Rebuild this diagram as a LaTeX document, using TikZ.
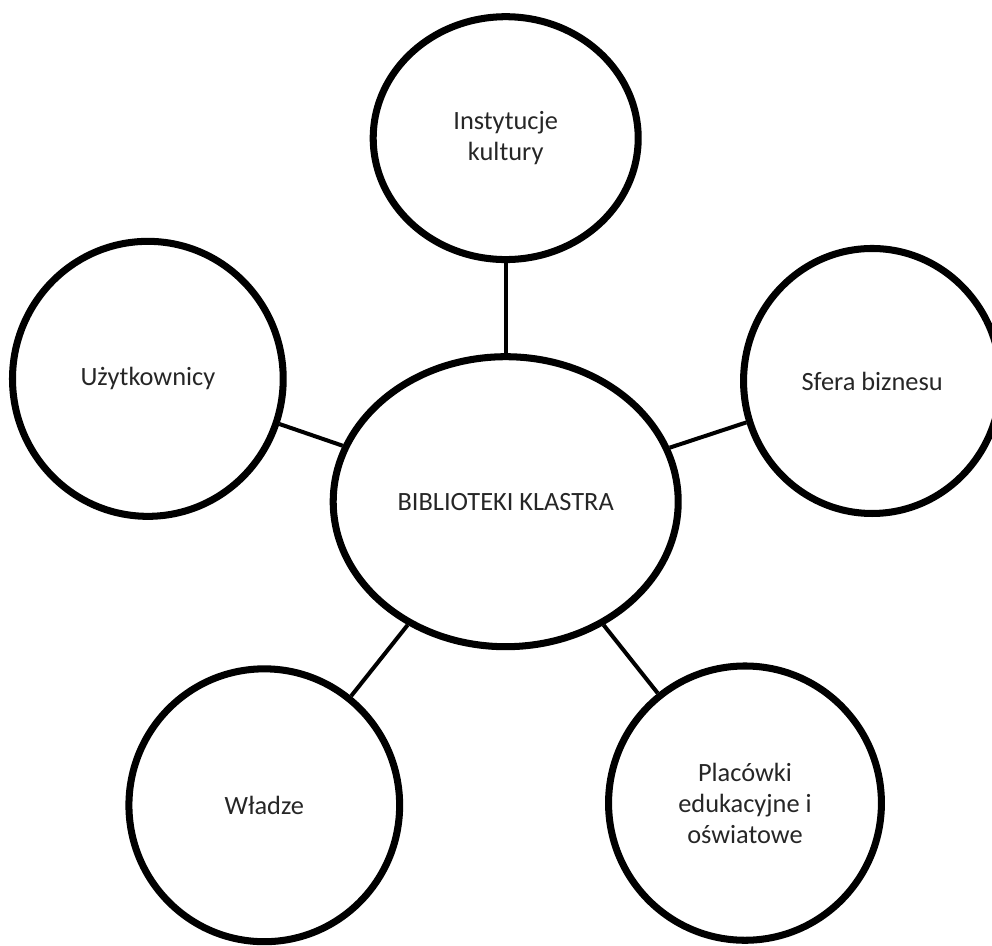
\documentclass[tikz,border=0pt]{standalone}
\usepackage{fontspec}
\setmainfont{Carlito}
\usetikzlibrary{shapes.geometric}

\begin{document}
\begin{tikzpicture}[
		krag/.style={draw, ellipse, line width=2.8pt, inner sep=0pt, align=center, text=black!85, font=\fontsize{10.5}{12.3}\selectfont},
		lacznik/.style={line width=1.6pt}
	]
		\useasboundingbox (0,0) rectangle (13.888,13.244);

		\node[krag, minimum width=4.83cm, minimum height=4.06cm] (klaster) at (7.08,6.22) {BIBLIOTEKI KLASTRA};

		\node[krag, minimum width=3.71cm, minimum height=3.40cm] (kultura) at (7.08,11.31) {Instytucje\\kultury};
		\node[krag, minimum width=3.79cm, minimum height=3.85cm] (uzytkownicy) at (2.07,7.94) {Użytkownicy};
		\node[krag, minimum width=3.60cm, minimum height=3.71cm] (biznes) at (12.21,7.91) {Sfera biznesu};
		\node[krag, minimum width=3.79cm, minimum height=3.82cm] (wladze) at (3.70,1.97) {Władze};
		\node[krag, minimum width=3.82cm, minimum height=3.84cm] (placowki) at (10.43,2.00) {Placówki\\edukacyjne i\\oświatowe};

		\draw[lacznik] (klaster) -- (kultura);
		\draw[lacznik] (klaster) -- (uzytkownicy);
		\draw[lacznik] (klaster) -- (biznes);
		\draw[lacznik] (klaster) -- (wladze);
		\draw[lacznik] (klaster) -- (placowki);
	\end{tikzpicture}
\end{document}
